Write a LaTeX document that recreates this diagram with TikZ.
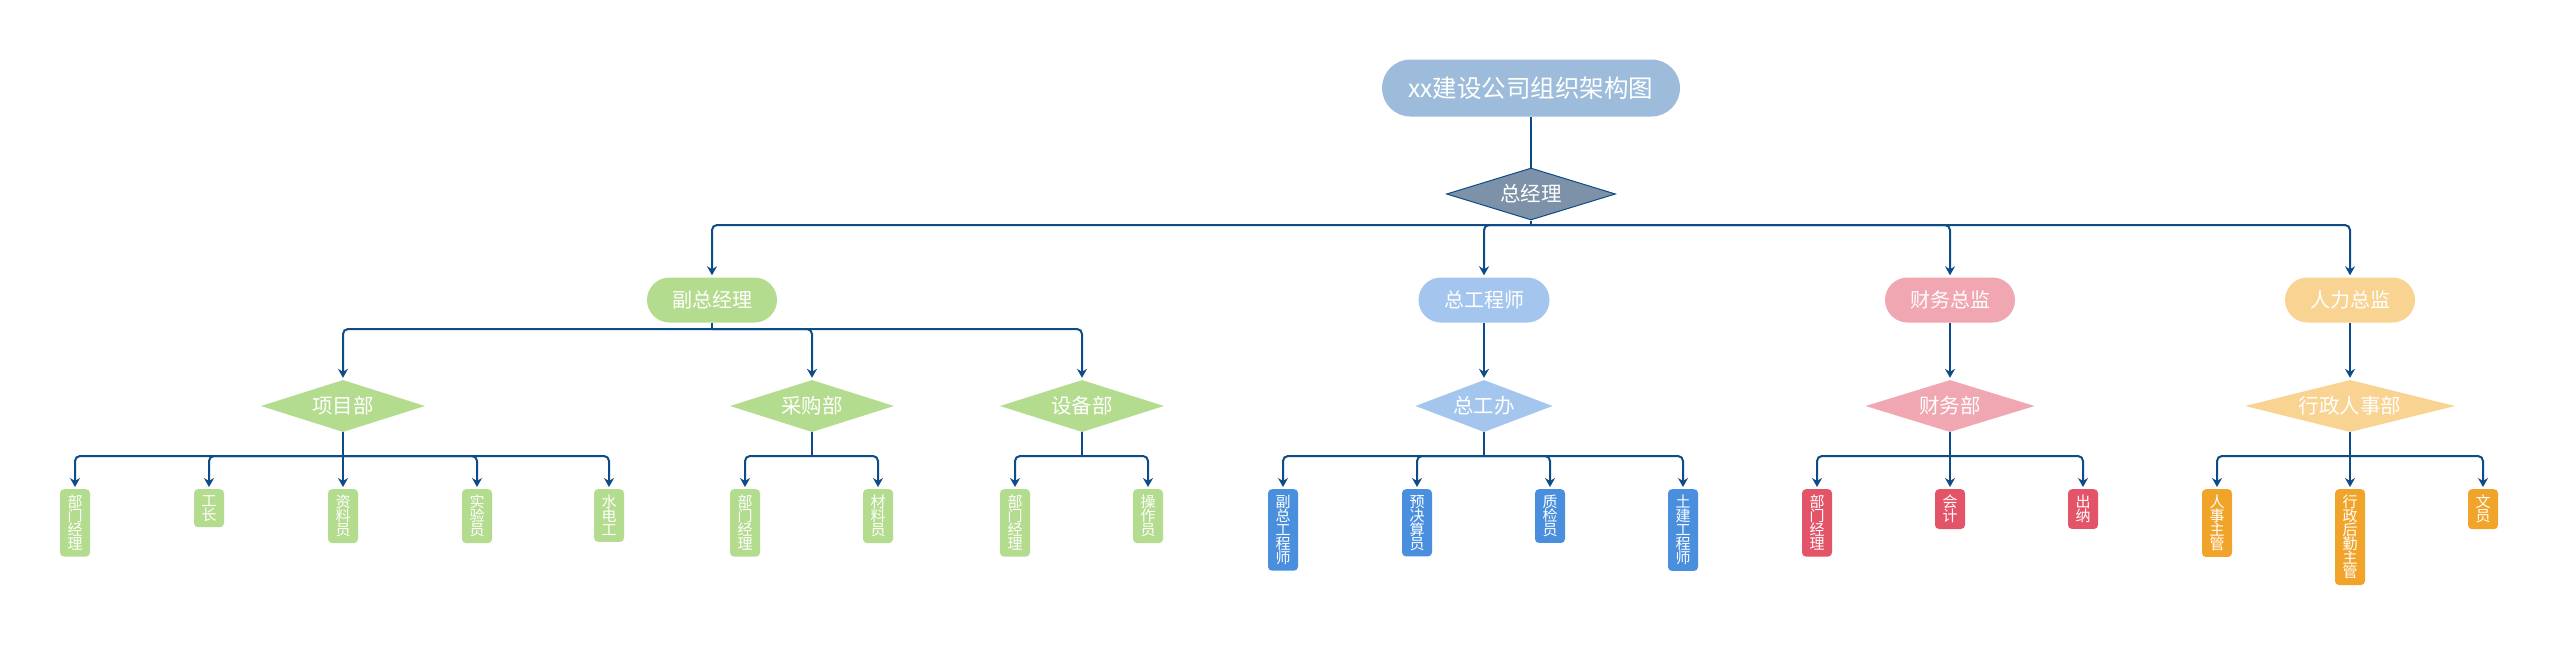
\documentclass[tikz,border=0pt]{standalone}
\usepackage{fontspec}
\setmainfont{Noto Sans CJK SC}
\usetikzlibrary{shapes.geometric,arrows.meta}
\definecolor{lineblue}{HTML}{0E4C88}
\definecolor{titlec}{HTML}{9DBCDB}
\definecolor{bossc}{HTML}{7D92A8}
\definecolor{greenc}{HTML}{B4DC8F}
\definecolor{bluel}{HTML}{A4C6EE}
\definecolor{blued}{HTML}{4A8FDE}
\definecolor{pinkl}{HTML}{F0A7B1}
\definecolor{pinkd}{HTML}{E35468}
\definecolor{orangel}{HTML}{F8D391}
\definecolor{oranged}{HTML}{F1A42A}
\tikzset{
  conn/.style={draw=lineblue, line width=2pt, rounded corners=5pt, shorten >=2pt,
    -{Stealth[length=9pt,width=10pt,inset=3pt]}},
  bar/.style={draw=lineblue, line width=2pt},
  pill/.style={rectangle, rounded corners=22.5pt, minimum height=45pt, minimum width=130pt,
    inner sep=0pt, text=white, font=\fontsize{20}{20}\selectfont},
  dia/.style={diamond, shape aspect=4, minimum height=52pt, inner sep=0pt, text=white,
    font=\fontsize{20.5}{20.5}\selectfont},
  leaf/.style={rectangle, rounded corners=4pt, minimum width=30pt, inner xsep=0pt,
    inner ysep=6pt, anchor=north, text=white, align=center,
    font=\fontsize{15}{14}\selectfont},
}
\begin{document}
\begin{tikzpicture}[x=1pt,y=-1pt]
\useasboundingbox[fill=white] (0,0) rectangle (2560,648);
% title and boss
\node[pill, fill=titlec, minimum width=298pt, minimum height=57pt, rounded corners=28.5pt,
  font=\fontsize{24.5}{24.5}\selectfont] (title) at (1531,88) {xx建设公司组织架构图};
\node[dia, fill=bossc, draw=lineblue, line width=1pt, minimum width=169pt] (zjl) at (1531,194) {总经理};
\draw[draw=lineblue, line width=2.6pt] (title.south) -- (zjl.north);
% level 2
\node[pill, fill=greenc] (fzjl) at (712,300) {副总经理};
\node[pill, fill=bluel, minimum width=131pt] (zgcs) at (1484,300) {总工程师};
\node[pill, fill=pinkl] (cwzj) at (1950,300) {财务总监};
\node[pill, fill=orangel] (rlzj) at (2350,300) {人力总监};
\coordinate (b1) at (1531,225);
\draw[bar] (zjl.south) -- (b1);
\foreach \c in {fzjl,zgcs,cwzj,rlzj} \draw[conn] (b1) -| (\c.north);
% level 3 diamonds
\node[dia, fill=greenc, minimum width=164pt] (xmb) at (343,406) {项目部};
\node[dia, fill=greenc, minimum width=164pt] (cgb) at (812,406) {采购部};
\node[dia, fill=greenc, minimum width=164pt] (sbb) at (1082,406) {设备部};
\node[dia, fill=bluel, minimum width=131pt] (zgb) at (1484,406) {总工办};
\node[dia, fill=pinkl, minimum width=169pt] (cwb) at (1950,406) {财务部};
\node[dia, fill=orangel, minimum width=210pt] (xzb) at (2350,406) {行政人事部};
\coordinate (b2) at (712,329);
\draw[bar] (fzjl.south) -- (b2);
\foreach \c in {xmb,cgb,sbb} \draw[conn] (b2) -| (\c.north);
\draw[conn] (zgcs.south) -- (zgb.north);
\draw[conn] (cwzj.south) -- (cwb.north);
\draw[conn] (rlzj.south) -- (xzb.north);
% leaves
\node[leaf, fill=greenc] (a1) at (75,489) {部\\门\\经\\理};
\node[leaf, fill=greenc] (a2) at (209,489) {工\\长};
\node[leaf, fill=greenc] (a3) at (343,489) {资\\料\\员};
\node[leaf, fill=greenc] (a4) at (477,489) {实\\验\\员};
\node[leaf, fill=greenc] (a5) at (609,489) {水\\电\\工};
\node[leaf, fill=greenc] (c1) at (745,489) {部\\门\\经\\理};
\node[leaf, fill=greenc] (c2) at (878,489) {材\\料\\员};
\node[leaf, fill=greenc] (s1) at (1015,489) {部\\门\\经\\理};
\node[leaf, fill=greenc] (s2) at (1148,489) {操\\作\\员};
\node[leaf, fill=blued] (g1) at (1283,489) {副\\总\\工\\程\\师};
\node[leaf, fill=blued] (g2) at (1417,489) {预\\决\\算\\员};
\node[leaf, fill=blued] (g3) at (1550,489) {质\\检\\员};
\node[leaf, fill=blued] (g4) at (1683,489) {土\\建\\工\\程\\师};
\node[leaf, fill=pinkd] (f1) at (1817,489) {部\\门\\经\\理};
\node[leaf, fill=pinkd] (f2) at (1950,489) {会\\计};
\node[leaf, fill=pinkd] (f3) at (2083,489) {出\\纳};
\node[leaf, fill=oranged] (r1) at (2217,489) {人\\事\\主\\管};
\node[leaf, fill=oranged] (r2) at (2350,489) {行\\政\\后\\勤\\主\\管};
\node[leaf, fill=oranged] (r3) at (2483,489) {文\\员};
\coordinate (bx) at (343,456);
\coordinate (bc) at (812,456);
\coordinate (bs) at (1082,456);
\coordinate (bg) at (1484,456);
\coordinate (bf) at (1950,456);
\coordinate (br) at (2350,456);
\draw[bar] (xmb.south) -- (bx);
\draw[bar] (cgb.south) -- (bc);
\draw[bar] (sbb.south) -- (bs);
\draw[bar] (zgb.south) -- (bg);
\draw[bar] (cwb.south) -- (bf);
\draw[bar] (xzb.south) -- (br);
\foreach \c in {a1,a2,a3,a4,a5} \draw[conn] (bx) -| (\c.north);
\foreach \c in {c1,c2} \draw[conn] (bc) -| (\c.north);
\foreach \c in {s1,s2} \draw[conn] (bs) -| (\c.north);
\foreach \c in {g1,g2,g3,g4} \draw[conn] (bg) -| (\c.north);
\foreach \c in {f1,f2,f3} \draw[conn] (bf) -| (\c.north);
\foreach \c in {r1,r2,r3} \draw[conn] (br) -| (\c.north);
\end{tikzpicture}
\end{document}
